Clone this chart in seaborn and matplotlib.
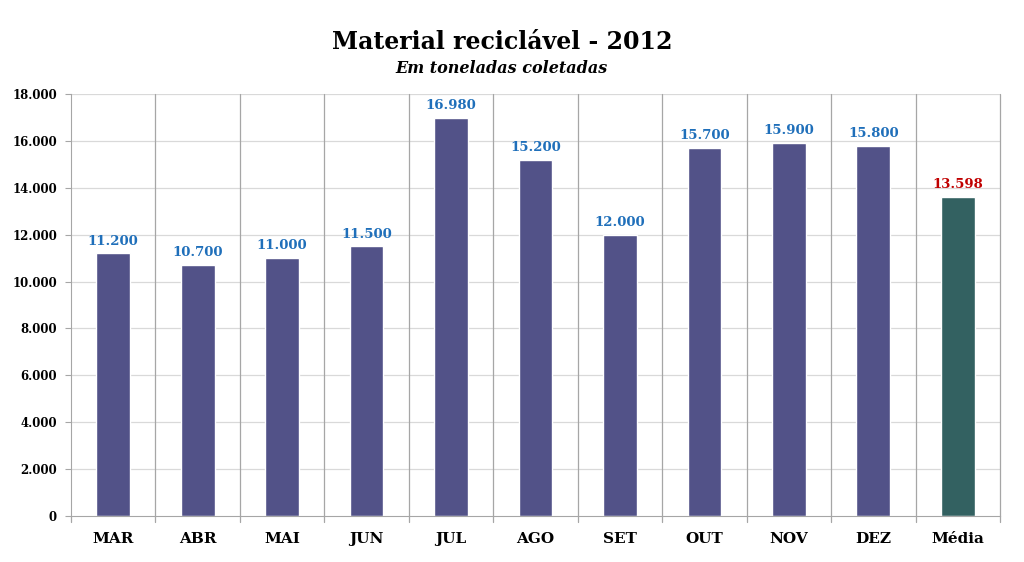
import numpy as np
import pandas as pd
import matplotlib
matplotlib.use("Agg")
import matplotlib.pyplot as plt
import seaborn as sns
from matplotlib.ticker import FuncFormatter, MultipleLocator

# data
meses = ["MAR", "ABR", "MAI", "JUN", "JUL", "AGO", "SET", "OUT", "NOV", "DEZ", "Média"]
toneladas = [11200, 10700, 11000, 11500, 16980, 15200, 12000, 15700, 15900, 15800, 13598]
tipo = ["mes"] * 10 + ["media"]

df = pd.DataFrame({"mes": meses, "ton": toneladas, "tipo": tipo})

sns.set_style("white")
plt.rcParams["font.family"] = ["DejaVu Serif"]
plt.rcParams["text.color"] = "black"
plt.rcParams["xtick.color"] = "black"
plt.rcParams["ytick.color"] = "black"

fig = plt.figure(figsize=(10.24, 5.62), dpi=100)
ax = fig.add_axes([0.0693, 0.0819, 0.9073, 0.7508])

cores = {"mes": "#525288", "media": "#336161"}
sns.barplot(data=df, x="mes", y="ton", hue="tipo", palette=cores, dodge=False,
            width=0.4, legend=False, ax=ax, saturation=1)

def fmt(v, pos=None):
    return f"{int(v):,}".replace(",", ".")

ax.set_ylim(0, 18000)
ax.set_xlim(-0.5, len(meses) - 0.5)
ax.yaxis.set_major_locator(MultipleLocator(2000))
ax.yaxis.set_major_formatter(FuncFormatter(fmt))

# grid: light horizontal, darker vertical separators
for y in range(2000, 18001, 2000):
    ax.axhline(y, color="#d9d9d9", lw=0.9, zorder=0)
for i in range(len(meses)):
    ax.axvline(i + 0.5, color="#a6a6a6", lw=0.9, zorder=0, clip_on=False)
    ax.plot([i + 0.5, i + 0.5], [0, -0.014], transform=ax.get_xaxis_transform(),
            color="#a6a6a6", lw=0.9, clip_on=False)
ax.plot([-0.5, -0.5], [0, -0.014], transform=ax.get_xaxis_transform(),
        color="#a6a6a6", lw=0.9, clip_on=False)

for s in ["top", "right"]:
    ax.spines[s].set_visible(False)
ax.spines["left"].set_color("#a6a6a6")
ax.spines["bottom"].set_color("#a6a6a6")

ax.tick_params(axis="y", left=True, length=4, color="#a6a6a6", labelsize=8.5, pad=6)
ax.tick_params(axis="x", bottom=False, labelsize=11, pad=8)
for lbl in ax.get_xticklabels() + ax.get_yticklabels():
    lbl.set_fontweight("bold")
ax.set_xlabel("")
ax.set_ylabel("")

for i, v in enumerate(toneladas):
    cor = "#c00000" if tipo[i] == "media" else "#1f6fba"
    ax.text(i, v + 250, fmt(v), ha="center", va="bottom", fontsize=9.5,
            fontweight="bold", color=cor)

fig.text(0.49, 0.925, "Material reciclável - 2012", ha="center", va="center",
         fontsize=17, fontweight="heavy")
fig.text(0.49, 0.878, "Em toneladas coletadas", ha="center", va="center",
         fontsize=11.5, fontstyle="italic", fontweight="bold")

fig.savefig("out.png", dpi=100)
